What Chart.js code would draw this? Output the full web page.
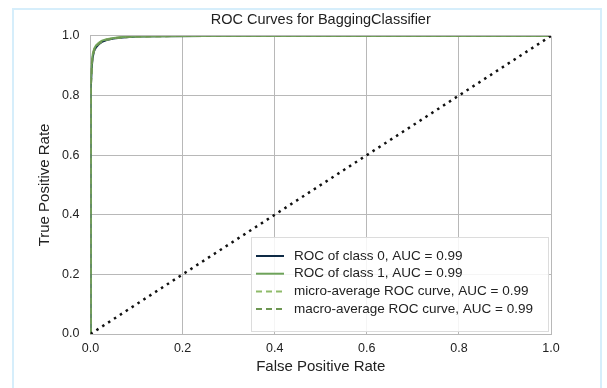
<!DOCTYPE html>
<html>
<head>
<meta charset="utf-8">
<script src="https://cdn.jsdelivr.net/npm/chart.js@4.4.0/dist/chart.umd.min.js"></script>
<style>
  html, body { margin: 0; padding: 0; background: #fff; }
  #wrap { position: relative; width: 607px; height: 388px; overflow: hidden; }
  #frame { position: absolute; left: 12px; top: 8px; width: 590px; height: 400px; border: 2px solid #d6eefb; box-sizing: border-box; }
  #roc { position: absolute; left: 0; top: 0; }
</style>
</head>
<body>
<div id="wrap">
  <div id="frame"></div>
  <canvas id="roc" width="607" height="388"></canvas>
</div>
<script>
const fprClass0 = [0, 0, 0.001, 0.003, 0.005, 0.008, 0.012, 0.018, 0.025, 0.035, 0.05, 0.07, 0.1, 0.15, 0.25, 1];
const tprClass0 = [0, 0.55, 0.82, 0.9, 0.93, 0.95, 0.962, 0.972, 0.98, 0.986, 0.991, 0.995, 0.998, 0.999, 1, 1];
const fprClass1 = [0, 0, 0.001, 0.003, 0.005, 0.008, 0.012, 0.018, 0.025, 0.035, 0.05, 0.07, 0.1, 0.15, 0.25, 1];
const tprClass1 = [0, 0.6, 0.85, 0.915, 0.94, 0.957, 0.968, 0.977, 0.984, 0.989, 0.993, 0.996, 0.998, 0.999, 1, 1];
const fprMicro = [0, 0, 0.001, 0.003, 0.005, 0.008, 0.012, 0.018, 0.025, 0.035, 0.05, 0.07, 0.1, 0.15, 0.25, 1];
const tprMicro = [0, 0.58, 0.84, 0.91, 0.935, 0.954, 0.965, 0.975, 0.982, 0.988, 0.992, 0.995, 0.998, 0.999, 1, 1];
const fprMacro = [0, 0, 0.001, 0.003, 0.005, 0.008, 0.012, 0.018, 0.025, 0.035, 0.05, 0.07, 0.1, 0.15, 0.25, 1];
const tprMacro = [0, 0.57, 0.835, 0.908, 0.935, 0.953, 0.965, 0.974, 0.982, 0.987, 0.992, 0.995, 0.998, 0.999, 1, 1];
const diagonal = [0, 1];
const labels = [
  'ROC of class 0, AUC = 0.99',
  'ROC of class 1, AUC = 0.99',
  'micro-average ROC curve, AUC = 0.99',
  'macro-average ROC curve, AUC = 0.99'
];
const ticks = [0, 0.2, 0.4, 0.6, 0.8, 1.0];

const pts = (xs, ys) => xs.map((x, i) => ({ x: x, y: ys[i] }));
const font = 'Liberation Sans, Arial, sans-serif';

// legend drawn inside the plot, bottom right
const insideLegend = {
  id: 'insideLegend',
  afterDatasetsDraw(chart) {
    const ctx = chart.ctx;
    const area = chart.chartArea;
    const items = chart.data.datasets.filter(d => d.label);
    const w = 297, h = 94;
    const x0 = area.right - w - 3, y0 = area.bottom - h - 3;
    ctx.save();
    ctx.fillStyle = 'rgba(255,255,255,0.85)';
    ctx.strokeStyle = '#dcdcdc';
    ctx.lineWidth = 1;
    ctx.fillRect(x0, y0, w, h);
    ctx.strokeRect(x0 + 0.5, y0 + 0.5, w, h);
    ctx.font = '13.5px ' + font;
    ctx.textBaseline = 'middle';
    items.forEach((d, i) => {
      const y = y0 + 19 + i * 17.7;
      ctx.strokeStyle = d.borderColor;
      ctx.lineWidth = 2;
      ctx.setLineDash(d.borderDash || []);
      ctx.beginPath();
      ctx.moveTo(x0 + 5, y);
      ctx.lineTo(x0 + 33, y);
      ctx.stroke();
      ctx.setLineDash([]);
      ctx.fillStyle = '#222';
      ctx.fillText(d.label, x0 + 43, y);
    });
    ctx.restore();
  }
};

new Chart(document.getElementById('roc'), {
  type: 'scatter',
  data: {
    datasets: [
      { label: labels[0], data: pts(fprClass0, tprClass0), borderColor: '#0e2a45', borderWidth: 2, order: 5 },
      { label: labels[1], data: pts(fprClass1, tprClass1), borderColor: '#6ea35a', borderWidth: 2, order: 4 },
      { label: labels[2], data: pts(fprMicro, tprMicro), borderColor: '#8fbb6a', borderWidth: 2, borderDash: [6, 4], order: 3 },
      { label: labels[3], data: pts(fprMacro, tprMacro), borderColor: '#6d9652', borderWidth: 2, borderDash: [6, 4], order: 2 },
      { label: '', data: pts(diagonal, diagonal), borderColor: '#111', borderWidth: 2.5, borderDash: [2.5, 4.5], order: 1 }
    ].map(d => Object.assign(d, { showLine: true, pointRadius: 0, fill: false, tension: 0 }))
  },
  options: {
    responsive: false,
    animation: false,
    layout: { padding: { left: 36, right: 56, top: 0, bottom: 12 } },
    plugins: {
      legend: { display: false },
      tooltip: { enabled: false },
      title: {
        display: true,
        fullSize: false,
        text: 'ROC Curves for BaggingClassifier',
        color: '#222',
        font: { family: font, size: 14.5, weight: 'normal' },
        padding: { top: 11, bottom: 7.5 }
      }
    },
    scales: {
      x: {
        type: 'linear', min: 0, max: 1,
        afterFit: s => { s.height = 42; },
        afterBuildTicks: s => { s.ticks = ticks.map(v => ({ value: v })); },
        ticks: { color: '#222', font: { family: font, size: 12.5 }, padding: 7, callback: v => v.toFixed(1) },
        grid: { color: '#b8b8b8', lineWidth: 1, drawTicks: false },
        border: { color: '#b8b8b8' },
        title: { display: true, text: 'False Positive Rate', color: '#222', font: { family: font, size: 15 }, padding: 0 }
      },
      y: {
        type: 'linear', min: 0, max: 1,
        afterFit: s => { s.width = 54.5; },
        afterBuildTicks: s => { s.ticks = ticks.map(v => ({ value: v })); },
        ticks: { color: '#222', font: { family: font, size: 12.5 }, padding: 11, callback: v => v.toFixed(1) },
        grid: { color: '#b8b8b8', lineWidth: 1, drawTicks: false },
        border: { color: '#b8b8b8' },
        title: { display: true, text: 'True Positive Rate', color: '#222', font: { family: font, size: 15 }, padding: 0 }
      }
    }
  },
  plugins: [insideLegend]
});
</script>
</body>
</html>
